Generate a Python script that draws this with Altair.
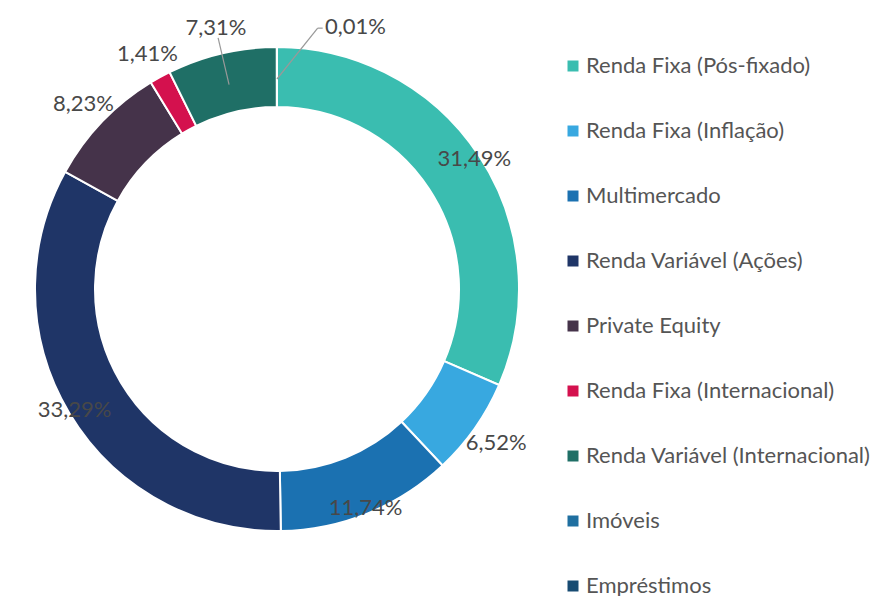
import math
import altair as alt
import pandas as pd

categories = [
    "Renda Fixa (Pós-fixado)",
    "Renda Fixa (Inflação)",
    "Multimercado",
    "Renda Variável (Ações)",
    "Private Equity",
    "Renda Fixa (Internacional)",
    "Renda Variável (Internacional)",
    "Imóveis",
    "Empréstimos",
]
values = [31.49, 6.52, 11.74, 33.29, 8.23, 1.41, 7.31, 0.01, 0.0]
colors = ["#3ABDB0", "#38A8E0", "#1B71B1", "#1F3567", "#45334A",
          "#D4114E", "#1F6F66", "#1F6FA0", "#174B72"]

CX, CY = 277, 289
R_OUT, R_IN = 242, 182
FONT = "Lato"

df = pd.DataFrame({"cat": categories, "val": values, "order": range(len(categories))})
df["label"] = df["val"].map(lambda v: f"{v:.2f}%".replace(".", ","))
cum = df["val"].cumsum()
df["mid"] = 2 * math.pi * (cum - df["val"] / 2) / 100.0

# leader lines derived from slice mid angles (7,31% and 0,01%)
lead = df[(df["val"] > 0) & ((df["val"] < 0.5) | (df["cat"] == "Renda Variável (Internacional)"))].copy()
tiny = lead["val"] < 0.5
lead["a2"] = lead["mid"] + tiny * 0.155
lead["r1"] = 210.0
lead["r2"] = 258.0 + tiny * 6
lead["x1"] = CX + lead["r1"] * lead["mid"].map(math.sin)
lead["y1"] = CY - lead["r1"] * lead["mid"].map(math.cos)
lead["x2"] = CX + lead["r2"] * lead["a2"].map(math.sin)
lead["y2"] = CY - lead["r2"] * lead["a2"].map(math.cos)
tail = lead[lead["val"] < 0.5].copy()
tail["x1"] = tail["x2"]
tail["y1"] = tail["y2"]
tail["x2"] = tail["x2"] + 5
leaders_df = pd.concat([lead, tail])[["x1", "y1", "x2", "y2"]]

color = alt.Color(
    "cat:N",
    scale=alt.Scale(domain=categories, range=colors),
    sort=categories,
    legend=alt.Legend(
        title=None,
        orient="none",
        legendX=562,
        legendY=55,
        symbolType="square",
        symbolSize=121,
        symbolStrokeWidth=0,
        labelFontSize=22,
        labelFont=FONT,
        labelColor="#555555",
        rowPadding=43,
        labelOffset=2,
        labelLimit=400,
    ),
)

base = alt.Chart(df)

arcs = base.mark_arc(
    outerRadius=R_OUT, innerRadius=R_IN, stroke="white", strokeWidth=2
).encode(
    theta=alt.Theta("val:Q", stack=True),
    color=color,
    order=alt.Order("order:Q"),
    x=alt.value(CX),
    y=alt.value(CY),
)

label_big = base.mark_text(
    radius=236, fontSize=22, font=FONT, color="#484848"
).encode(
    theta=alt.Theta("val:Q", stack=True),
    text=alt.condition("datum.val >= 10", "label:N", alt.value("")),
    order=alt.Order("order:Q"),
    x=alt.value(CX),
    y=alt.value(CY),
)

label_small = base.mark_text(
    radius=268, fontSize=22, font=FONT, color="#484848"
).encode(
    theta=alt.Theta("val:Q", stack=True),
    text=alt.condition("datum.val >= 0.5 && datum.val < 10", "label:N", alt.value("")),
    order=alt.Order("order:Q"),
    x=alt.value(CX),
    y=alt.value(CY),
)

leaders = alt.Chart(leaders_df).mark_rule(color="#999999", strokeWidth=1.2).encode(
    x=alt.X("x1:Q", scale=None),
    y=alt.Y("y1:Q", scale=None),
    x2="x2:Q",
    y2="y2:Q",
)

tiny_label = base.transform_filter("datum.val > 0 && datum.val < 0.5").mark_text(
    radius=262, fontSize=22, font=FONT, color="#484848", align="left", dx=48
).encode(
    theta=alt.Theta("mid:Q", scale=None),
    text="label:N",
    x=alt.value(CX),
    y=alt.value(CY),
)

chart = alt.layer(arcs, leaders, label_big, label_small, tiny_label).properties(
    width=881,
    height=596,
    padding=0,
    autosize=alt.AutoSizeParams(type="none"),
    background="white",
).configure_view(stroke=None)

chart.save("out.html", embed_options={"renderer": "svg", "actions": False})
